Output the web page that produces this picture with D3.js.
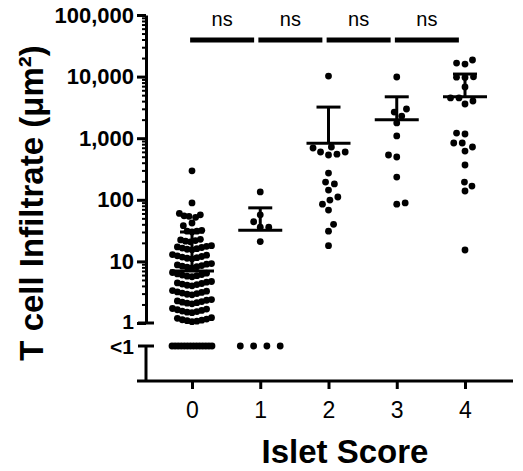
<!DOCTYPE html>
<html>
<head>
<meta charset="utf-8">
<script src="https://cdn.jsdelivr.net/npm/d3@7"></script>
<style>
  body { margin: 0; background: #fff; }
  text { font-family: "Liberation Sans", Arial, sans-serif; }
</style>
</head>
<body>
<script>

// values in um^2, 0 means below detection ("<1")
var categories = ["0", "1", "2", "3", "4"];
var score0 = [0, 0, 0, 0, 0, 0, 0, 0, 0, 0, 0, 0, 0, 0,
  1.05, 1.07, 1.09, 1.11, 1.13, 1.16, 1.19, 1.22,
  1.47, 1.5, 1.53, 1.56, 1.6, 1.64, 1.68, 1.72,
  2.05, 2.1, 2.14, 2.18, 2.23, 2.28, 2.34, 2.4,
  2.87, 2.93, 3.0, 3.06, 3.13, 3.2, 3.28, 3.36,
  4.02, 4.1, 4.2, 4.28, 4.38, 4.48, 4.6, 4.72,
  5.63, 5.75, 5.87, 6.0, 6.13, 6.27, 6.43, 6.6,
  7.87, 8.03, 8.2, 8.38, 8.57, 8.77, 9.0, 9.22,
  11.0, 11.25, 11.5, 11.75, 12.0, 12.3, 12.6, 12.9,
  15.4, 15.75, 16.1, 16.45, 16.8, 17.2, 17.6, 18.0,
  20.8, 21.3, 21.8, 22.3, 22.8,
  30, 31, 31, 32, 38, 42, 52, 54, 55, 57, 60, 89, 295];
var score1 = [0, 0, 0, 0, 21, 36, 36, 44, 57, 134];
var score2 = [18, 31, 40, 68, 85, 99, 111, 144, 181, 194, 272, 534, 551, 597, 597, 693, 720, 10200];
var score3 = [85, 89, 234, 495, 534, 1090, 1770, 2290, 2660, 2980, 9860];
var score4 = [15.3, 139, 167, 194, 367, 619, 720, 836, 836, 1170, 1210, 3590, 4020, 4500, 4500,
  6780, 9700, 9800, 9900, 16000, 16600, 18600];
var meanVals = [7, 32, 830, 2000, 4700];
var upperVals = [30, 74, 3200, 4700, 11000];
var yTicks = [1, 10, 100, 1000, 10000, 100000];
var comparisons = [[0, 1], [1, 2], [2, 3], [3, 4]];
var compLabels = ["ns", "ns", "ns", "ns"];

var groups = [score0, score1, score2, score3, score4];

var W = 523, H = 471;
var svg = d3.select("body").append("svg")
    .attr("width", W)
    .attr("height", H);

var x = d3.scaleLinear().domain([0, 4]).range([192, 465]);
var y = d3.scaleLog().domain([1, 100000]).range([323, 15]);
var axisX = 146, yBelow = 346, baseY = 381;
var r = 3.4;

// simple beeswarm, lowest value first
function swarm(vals, D, maxHalf) {
  var pts = vals.filter(function(v) { return v >= 1; })
    .sort(function(a, b) { return a - b; })
    .map(function(v) { return { v: v, y: y(v) }; });
  var placed = [], flip = 1;
  pts.forEach(function(p) {
    var blocks = [];
    placed.forEach(function(q) {
      var dy = Math.abs(q.y - p.y);
      if (dy < D) {
        var w = Math.sqrt(D * D - dy * dy);
        blocks.push([q.dx - w, q.dx + w]);
      }
    });
    var cands = [0];
    blocks.forEach(function(b) { cands.push(b[0], b[1]); });
    var ok = cands.filter(function(c) {
      return blocks.every(function(b) { return c <= b[0] + 1e-6 || c >= b[1] - 1e-6; });
    });
    var best = d3.min(ok, function(c) { return Math.abs(c); });
    var ties = ok.filter(function(c) { return Math.abs(Math.abs(c) - best) < 0.5; });
    var pick = ties.find(function(c) { return Math.sign(c) === flip; });
    if (pick === undefined) pick = ties[0];
    if (pick !== 0) flip = -flip;
    p.dx = pick;
    placed.push(p);
  });
  var m = d3.max(placed, function(p) { return Math.abs(p.dx); }) || 0;
  if (m > maxHalf) placed.forEach(function(p) { p.dx *= maxHalf / m; });
  return placed;
}

// error bars (mean + upper bar)
var eb = svg.append("g").attr("stroke", "#000").attr("stroke-width", 3);
meanVals.forEach(function(m, i) {
  var cx = x(i), ym = y(m), yu = y(upperVals[i]);
  eb.append("line").attr("x1", cx - 22).attr("x2", cx + 22).attr("y1", ym).attr("y2", ym);
  eb.append("line").attr("x1", cx).attr("x2", cx).attr("y1", ym).attr("y2", yu);
  eb.append("line").attr("x1", cx - 12).attr("x2", cx + 12).attr("y1", yu).attr("y2", yu);
});

// dots
var dots = svg.append("g").attr("fill", "#000");
groups.forEach(function(vals, i) {
  var pts = swarm(vals, 8.5, 19.5);
  dots.selectAll(null)
    .data(pts)
    .enter()
    .append("circle")
    .attr("cx", function(d) { return x(i) + d.dx; })
    .attr("cy", function(d) { return d.y; })
    .attr("r", r);

  var n0 = vals.filter(function(v) { return v < 1; }).length;
  var step = n0 > 1 ? Math.min(13.3, 40 / (n0 - 1)) : 0;
  dots.selectAll(null)
    .data(d3.range(n0))
    .enter()
    .append("circle")
    .attr("cx", function(k) { return x(i) + (k - (n0 - 1) / 2) * step; })
    .attr("cy", yBelow)
    .attr("r", r);
});

// y axis, upper segment
var minorTicks = [];
yTicks.slice(0, -1).forEach(function(t) {
  for (var k = 2; k <= 9; k++) minorTicks.push(t * k);
});

svg.append("g")
  .attr("transform", "translate(" + axisX + ",0)")
  .call(d3.axisLeft(y).tickValues(minorTicks).tickSize(4).tickSizeOuter(0).tickFormat(""))
  .call(function(g) {
    g.select(".domain").remove();
    g.selectAll("line").attr("stroke-width", 2);
  });

var yAxis = svg.append("g")
  .attr("transform", "translate(" + axisX + ",0)")
  .call(d3.axisLeft(y).tickValues(yTicks).tickFormat(d3.format(",")).tickSize(9).tickSizeOuter(0));
yAxis.select(".domain").attr("stroke-width", 3);
yAxis.selectAll(".tick line").attr("stroke-width", 3);
yAxis.selectAll(".tick text")
  .attr("x", -12)
  .attr("dy", function(d) { return d === 1 ? "0.26em" : "0.32em"; })
  .attr("font-size", function(d) { return d === 1 ? 21 : 22; })
  .attr("font-weight", "bold")
  .attr("fill", "#000");

// axis break caps and lower segment
var ax = svg.append("g").attr("stroke", "#000").attr("stroke-width", 3);
ax.append("line").attr("x1", axisX - 8).attr("x2", axisX + 8).attr("y1", y(1)).attr("y2", y(1));
ax.append("line").attr("x1", axisX - 8).attr("x2", axisX + 8).attr("y1", yBelow).attr("y2", yBelow);
ax.append("line").attr("x1", axisX).attr("x2", axisX).attr("y1", yBelow).attr("y2", baseY);
ax.append("line").attr("x1", axisX - 9).attr("x2", 513).attr("y1", baseY).attr("y2", baseY);

svg.append("text")
  .attr("x", axisX - 12)
  .attr("y", yBelow)
  .attr("dy", "0.4em")
  .attr("text-anchor", "end")
  .attr("font-size", 21)
  .attr("font-weight", "bold")
  .text("<1");

// x axis
var xAxis = svg.append("g")
  .attr("transform", "translate(0," + baseY + ")")
  .call(d3.axisBottom(x).tickValues(d3.range(categories.length))
    .tickFormat(function(d) { return categories[d]; }).tickSize(8).tickSizeOuter(0));
xAxis.select(".domain").remove();
xAxis.selectAll(".tick line").attr("stroke-width", 3);
xAxis.selectAll(".tick text")
  .attr("y", 21)
  .attr("font-size", 23)
  .attr("fill", "#000");

// significance bars
comparisons.forEach(function(c, i) {
  var mid = (x(c[0]) + x(c[1])) / 2 - 4;
  svg.append("line")
    .attr("x1", mid - 32).attr("x2", mid + 32)
    .attr("y1", 40).attr("y2", 40)
    .attr("stroke", "#000")
    .attr("stroke-width", 5);
  svg.append("text")
    .attr("x", mid)
    .attr("y", 26)
    .attr("text-anchor", "middle")
    .attr("font-size", 20)
    .text(compLabels[i]);
});

// titles
svg.append("text")
  .attr("x", 345)
  .attr("y", 463)
  .attr("text-anchor", "middle")
  .attr("font-size", 33)
  .attr("font-weight", "bold")
  .text("Islet Score");

svg.append("text")
  .attr("transform", "translate(43,203) rotate(-90)")
  .attr("text-anchor", "middle")
  .attr("font-size", 33)
  .attr("font-weight", "bold")
  .text("T cell Infiltrate (\u03bcm\u00b2)");

</script>
</body>
</html>
